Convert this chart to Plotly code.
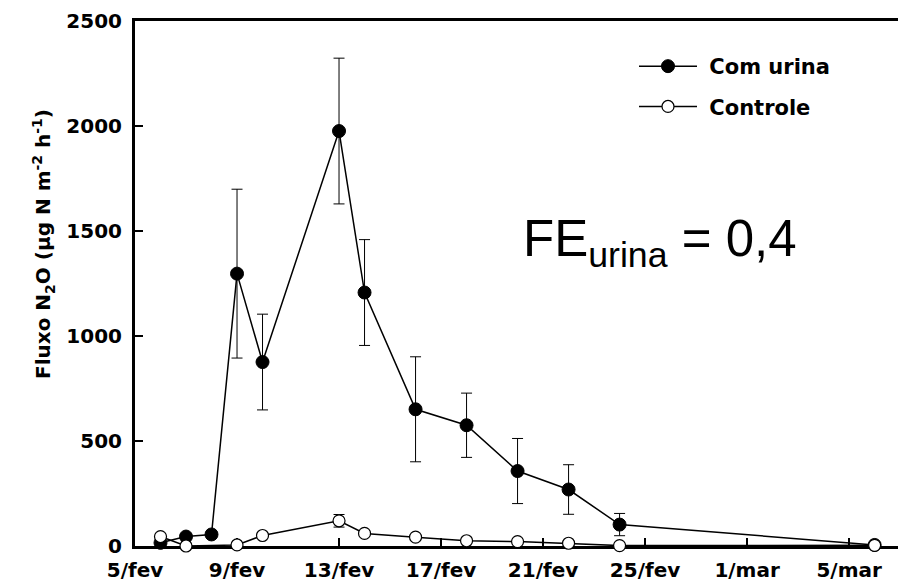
import plotly.graph_objects as go

# ---- data ----
urina_dates = ["2007-02-06", "2007-02-07", "2007-02-08", "2007-02-09", "2007-02-10",
               "2007-02-13", "2007-02-14", "2007-02-16", "2007-02-18", "2007-02-20",
               "2007-02-22", "2007-02-24", "2007-03-06"]
urina_values = [15, 45, 55, 1297, 876, 1976, 1207, 651, 575, 357, 269, 102, 5]
urina_errors = [5, 8, 8, 402, 228, 347, 252, 250, 153, 155, 118, 53, 2]

controle_dates = ["2007-02-06", "2007-02-07", "2007-02-09", "2007-02-10",
                  "2007-02-13", "2007-02-14", "2007-02-16", "2007-02-18", "2007-02-20",
                  "2007-02-22", "2007-02-24", "2007-03-06"]
controle_values = [45, 0, 5, 50, 120, 60, 42, 25, 21, 13, 2, 3]
controle_errors = [5, 3, 3, 8, 30, 12, 8, 5, 5, 4, 2, 2]

tick_dates = ["2007-02-05", "2007-02-09", "2007-02-13", "2007-02-17", "2007-02-21",
              "2007-02-25", "2007-03-01", "2007-03-05"]
tick_labels = ["5/fev", "9/fev", "13/fev", "17/fev", "21/fev", "25/fev", "1/mar", "5/mar"]
y_ticks = [0, 500, 1000, 1500, 2000, 2500]

BOLD = dict(family="DejaVu Sans", size=20, color="black", weight="bold")

L, T, W, H = 135, 21, 763, 525

fig = go.Figure()
fig.add_trace(go.Scatter(
    x=urina_dates, y=urina_values, name=" Com urina", mode="lines+markers",
    line=dict(color="black", width=1.5),
    marker=dict(size=13, color="black", line=dict(color="black", width=1)),
    error_y=dict(type="data", array=urina_errors, visible=True, color="black",
                 thickness=1, width=5.5),
    cliponaxis=False, legendgroup="a",
))
fig.add_trace(go.Scatter(
    x=controle_dates, y=controle_values, name=" Controle", mode="lines+markers",
    line=dict(color="black", width=1.5),
    marker=dict(size=12, color="white", line=dict(color="black", width=1.2)),
    error_y=dict(type="data", array=controle_errors, visible=True, color="black",
                 thickness=1, width=5.5),
    cliponaxis=False, legendgroup="b",
))

fig.add_annotation(
    text="FE<sub>urina</sub> = 0,4", xref="paper", yref="paper",
    x=(521 - L) / W, y=1 - (242 - T) / H, xanchor="left", yanchor="middle",
    showarrow=False, font=dict(family="Liberation Sans", size=51, color="black"),
)
fig.add_annotation(
    text="Fluxo N<sub>2</sub>O (µg N m<sup>-2</sup> h<sup>-1</sup>)", xref="paper", yref="paper",
    x=(43 - L) / W, y=1 - (244 - T) / H, xanchor="center", yanchor="middle",
    textangle=-90, showarrow=False, font=BOLD,
)

fig.update_layout(
    width=898, height=585,
    margin=dict(l=L, r=898 - L - W, t=T, b=585 - T - H, autoexpand=False),
    paper_bgcolor="white", plot_bgcolor="white",
    showlegend=True,
    legend=dict(x=(634 - L) / W, y=1 - (46 - T) / H, xanchor="left", yanchor="top",
                font=dict(family="DejaVu Sans", size=21, color="black", weight="bold"),
                bgcolor="rgba(0,0,0,0)", itemwidth=58, tracegroupgap=10),
    xaxis=dict(
        type="date", range=["2007-02-05", "2007-03-06 22:00"],
        tickvals=tick_dates, ticktext=tick_labels, automargin=False,
        showgrid=False, zeroline=False, showline=True, linecolor="black", linewidth=3,
        mirror=True, ticks="inside", ticklen=8, tickwidth=2, tickcolor="black",
        tickfont=BOLD, layer="below traces", ticklabelstandoff=4,
    ),
    yaxis=dict(
        range=[0, 2500], tickvals=y_ticks, automargin=False, mirror=False,
        showgrid=False, zeroline=False, showline=True, linecolor="black", linewidth=3,
        ticks="inside", ticklen=8, tickwidth=2, tickcolor="black",
        tickfont=BOLD, layer="below traces", ticklabelstandoff=6,
    ),
)

fig.write_html(
    "out.html",
    config={"displayModeBar": False},
    post_script="document.body.style.margin='0px';document.body.style.overflow='hidden';",
)
